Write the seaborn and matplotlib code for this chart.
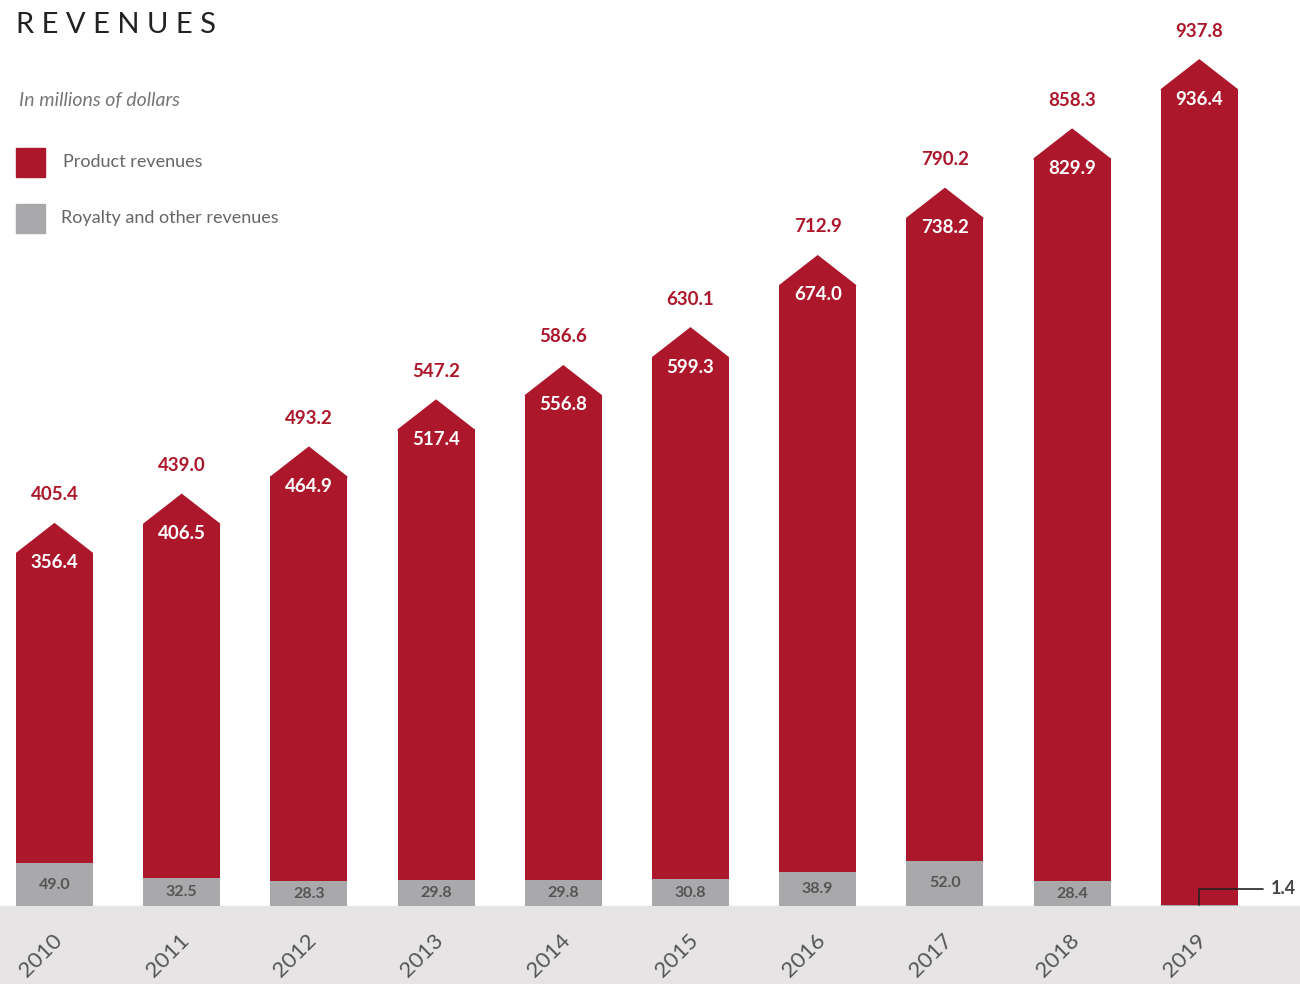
import seaborn as sns
import pandas as pd
import matplotlib.pyplot as plt
from matplotlib.patches import Rectangle

sns.set_style("white")
plt.rcParams['font.family'] = ['Lato', 'DejaVu Sans']

years = ['2010', '2011', '2012', '2013', '2014', '2015', '2016', '2017', '2018', '2019']
product = [356.4, 406.5, 464.9, 517.4, 556.8, 599.3, 674.0, 738.2, 829.9, 936.4]
royalty = [49.0, 32.5, 28.3, 29.8, 29.8, 30.8, 38.9, 52.0, 28.4, 1.4]
totals = [405.4, 439.0, 493.2, 547.2, 586.6, 630.1, 712.9, 790.2, 858.3, 937.8]

RED = '#ad172b'
GRAY = '#a9a8aa'
BAND = '#e6e4e5'
TXT = '#555555'

W, H = 1300, 984
GROUND = 906          # pixel row of the baseline
YTOP = 1040           # data value at the top of the figure
PX = GROUND / YTOP    # pixels per data unit
BAR_W = 0.605

df = pd.DataFrame({'year': years, 'product': product, 'royalty': royalty, 'total': totals})

fig = plt.figure(figsize=(13, 9.84), dpi=100)
fig.patches.append(Rectangle((0, 0), 1, (H - GROUND) / H, transform=fig.transFigure,
                             color=BAND, zorder=-10))
ax = fig.add_axes([0, (H - GROUND) / H, 1, GROUND / H])
ax.set_facecolor('none')
ax.set_zorder(1)

sns.barplot(data=df, x='year', y='total', color=RED, width=BAR_W, saturation=1,
            linewidth=0, ax=ax)
sns.barplot(data=df, x='year', y='royalty', color=GRAY, width=BAR_W, saturation=1,
            linewidth=0, ax=ax)

roof = 30 / PX
for i, row in df.iterrows():
    t = row['total']
    # roof overlaps the bar top a little so no seam shows
    ax.fill([i - BAR_W / 2, i - BAR_W / 2, i, i + BAR_W / 2, i + BAR_W / 2],
            [t - 2, t, t + roof, t, t - 2], color=RED, lw=0)
    ax.text(i, t + roof + 28 / PX, f"{t:.1f}", color=RED, ha='center', va='center',
            fontsize=13.5, fontweight='bold')
    ax.text(i, t - 10 / PX, f"{row['product']:.1f}", color='white', ha='center', va='center',
            fontsize=13.5, fontweight='bold')
    if row['royalty'] > 5:
        ax.text(i, row['royalty'] / 2, f"{row['royalty']:.1f}", color=TXT, ha='center',
                va='center', fontsize=11.5, fontweight='bold')
    ax.text(i - 0.11, -50 / PX, row['year'], color=TXT, ha='center', va='center',
            rotation=45, fontsize=16, clip_on=False)

# tiny royalty value for the last year
last = len(years) - 1
ly = 17 / PX
ax.plot([last, last, last + 0.5], [royalty[last], ly, ly], color='#222222', lw=1.2,
        clip_on=False)
ax.text(last + 0.56, ly, f"{royalty[last]:.1f}", color='#444444', ha='left', va='center',
        fontsize=13, fontweight='bold')

ax.set_xlim(-54.5 / 127.2, (W - 54.5) / 127.2)
ax.set_ylim(0, YTOP)
ax.axis('off')

# title, subtitle and legend
fig.text(16 / W, 1 - 25 / H, "R E V E N U E S", fontsize=21, color='#222222',
         va='center', ha='left')
fig.text(19 / W, 1 - 100 / H, "In millions of dollars", fontsize=14, color='#777777',
         style='italic', va='center', ha='left')
for yc, col, lab, tx in [(162, RED, "Product revenues", 63), (218, GRAY, "Royalty and other revenues", 61)]:
    fig.patches.append(Rectangle((16 / W, 1 - (yc + 14.5) / H), 29 / W, 29 / H,
                                 transform=fig.transFigure, color=col))
    fig.text(tx / W, 1 - yc / H, lab, fontsize=13, color='#666666', va='center', ha='left')

plt.savefig("out.png", dpi=100)
